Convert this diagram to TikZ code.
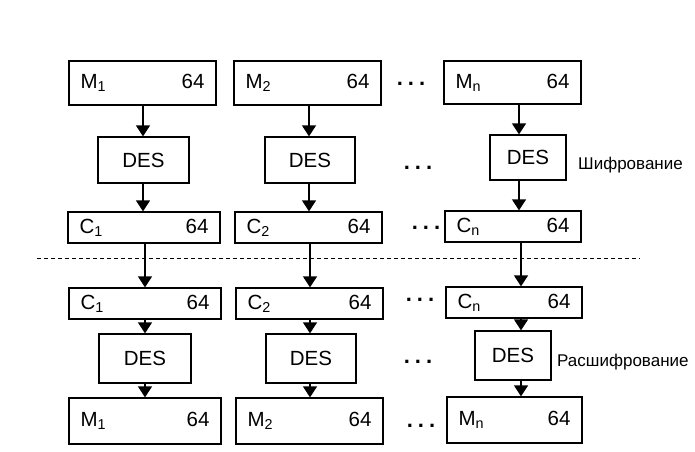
\documentclass[tikz,border=0pt]{standalone}
\usepackage{fontspec}
\setmainfont{Liberation Sans}
\usetikzlibrary{arrows.meta}
\newcommand\cellbox[8]{\node[box, minimum width=#4pt, minimum height=#5pt] (#1) at (#2,#3) {\makebox[#8pt]{#6\textsubscript{#7}\hfill 64}};}
\newcommand\desbox[5]{\node[box, minimum width=#4pt, minimum height=#5pt] (#1) at (#2,#3) {DES};}
\begin{document}
\begin{tikzpicture}[x=1pt,y=-1pt,
 box/.style={draw, line width=1.3pt, inner sep=0pt, font=\fontsize{20.5}{24}\selectfont},
 arr/.style={line width=1.3pt, -{Triangle[width=14pt,length=11pt]}},
 dots/.style={font=\fontsize{22}{24}\selectfont\bfseries, inner sep=0pt},
 lbl/.style={font=\fontsize{17}{20}\selectfont, inner sep=0pt, anchor=west}]
\useasboundingbox (0,0) rectangle (695,451);
% top: encryption
\cellbox{m1}{142.5}{83}{147}{44}{M}{1}{124}
\cellbox{m2}{307.5}{83}{147}{44}{M}{2}{124}
\cellbox{m3}{512.5}{82.5}{137}{43}{M}{n}{114}
\desbox{d1}{143.5}{160}{91}{46}
\desbox{d2}{310}{160}{90}{46}
\desbox{d3}{528}{157.5}{76}{45}
\cellbox{c1}{144}{227.5}{152}{31}{C}{1}{129}
\cellbox{c2}{308.5}{227.5}{147}{31}{C}{2}{124}
\cellbox{c3}{513}{226.5}{136}{31}{C}{n}{113}
% bottom: decryption
\cellbox{cc1}{145}{303.5}{152}{31}{C}{1}{129}
\cellbox{cc2}{309.5}{303.5}{147}{31}{C}{2}{124}
\cellbox{cc3}{514}{302.5}{136}{31}{C}{n}{113}
\desbox{dd1}{145}{358.5}{92}{49}
\desbox{dd2}{311}{358.5}{90}{49}
\desbox{dd3}{513}{355.5}{76}{49}
\cellbox{mm1}{145}{421}{152}{46}{M}{1}{129}
\cellbox{mm2}{309.5}{421}{147}{46}{M}{2}{124}
\cellbox{mm3}{514.5}{420}{135}{46}{M}{n}{112}
% column lines
\coordinate (xa1) at (143,0);
\coordinate (xa2) at (309,0);
\coordinate (xa3) at (519,0);
\coordinate (xb1) at (145,0);
\coordinate (xb2) at (310,0);
\coordinate (xb3) at (521,0);
\foreach \i in {1,2,3}{
  \draw[arr] (m\i.south -| xa\i) -- (d\i.north -| xa\i);
  \draw[arr] (d\i.south -| xa\i) -- (c\i.north -| xa\i);
  \draw[arr] (c\i.south -| xb\i) -- (cc\i.north -| xb\i);
  \draw[arr] (cc\i.south -| xb\i) -- (dd\i.north -| xb\i);
  \draw[arr] (dd\i.south -| xb\i) -- (mm\i.north -| xb\i);
}
% dashed separator
\coordinate (sepL) at (37,258);
\coordinate (sepR) at (640,258);
\draw[dashed, dash pattern=on 4pt off 3pt, line width=0.8pt] (sepL) -- (sepR);
% dots
\node[dots] (t1) at (411,84) {.\hspace{5pt}.\hspace{5pt}.};
\node[dots] (t2) at (418,168) {.\hspace{5pt}.\hspace{5pt}.};
\node[dots] (t3) at (426,228) {.\hspace{5pt}.\hspace{5pt}.};
\node[dots] (t4) at (420,300) {.\hspace{5pt}.\hspace{5pt}.};
\node[dots] (t5) at (418,362) {.\hspace{5pt}.\hspace{5pt}.};
\node[dots] (t6) at (421,426) {.\hspace{5pt}.\hspace{5pt}.};
% labels
\node[lbl] (enc) at (578,165) {Шифрование};
\node[lbl] (dec) at (557,362) {Расшифрование};
\end{tikzpicture}
\end{document}
